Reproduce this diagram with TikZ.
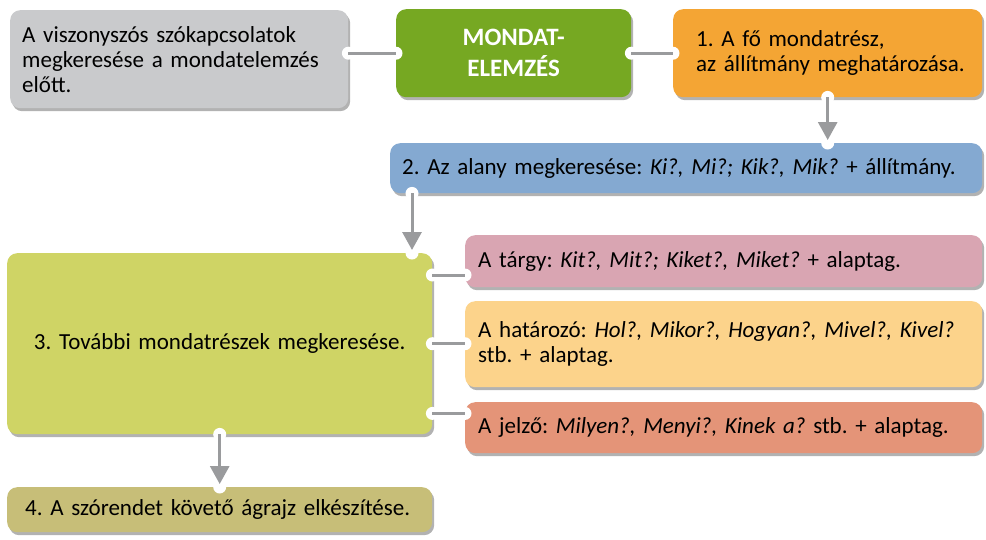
\documentclass[tikz,border=0pt]{standalone}
\usepackage{fontspec}
\setmainfont{Carlito}
\usetikzlibrary{shadows,arrows.meta,calc}
\definecolor{cgray}{HTML}{C9CACC}
\definecolor{cgreen}{HTML}{76A822}
\definecolor{corange}{HTML}{F4A534}
\definecolor{cblue}{HTML}{84A9D1}
\definecolor{cyg}{HTML}{CFD465}
\definecolor{cpink}{HTML}{D9A5B2}
\definecolor{ccream}{HTML}{FCD38B}
\definecolor{csalmon}{HTML}{E49478}
\definecolor{colive}{HTML}{C7BE78}
\definecolor{cline}{HTML}{9A9B9D}
\frenchspacing
\tikzset{
  box/.style={rounded corners=10pt, anchor=north west, inner ysep=0pt, align=left,
    font=\fontsize{23}{25}\selectfont, text=black,
    drop shadow={shadow xshift=2pt, shadow yshift=-3pt, opacity=0.3, fill=black}},
  notch/.style={fill=white, draw=none},
  conn/.style={draw=cline, line width=3pt},
  arr/.style={draw=cline, line width=3pt, -{Triangle[width=19pt,length=18pt]}, shorten >=3pt}
}
\begin{document}
\begin{tikzpicture}[x=1pt,y=1pt]
\useasboundingbox (0,0) rectangle (986,-539);
% boxes
\node[box, fill=cgray, inner xsep=12pt, text width=314pt, minimum height=98pt] (gray) at (10,-10)
  {\mbox{A viszonyszós szókapcsolatok}\\\mbox{megkeresése a mondatelemzés}\\előtt.};
\node[box, fill=cgreen, inner xsep=0pt, text width=235pt, minimum height=88pt, align=center,
  text=white, font=\fontsize{25}{31}\selectfont\bfseries] (green) at (396,-9)
  {MONDAT-\\ELEMZÉS};
\node[box, fill=corange, inner xsep=23pt, text width=263pt, minimum height=88pt] (orange) at (673,-9)
  {1. A fő mondatrész,\\\mbox{az állítmány meghatározása.}};
\node[box, fill=cblue, inner xsep=12pt, text width=568pt, minimum height=50pt] (blue) at (390,-143)
  {\mbox{2. Az alany megkeresése: \textit{Ki?, Mi?; Kik?, Mik?} + állítmány.}};
\node[box, fill=cyg, inner xsep=0pt, text width=425pt, minimum height=181pt, align=center] (yg) at (7,-253)
  {3. További mondatrészek megkeresése.};
\node[box, fill=cpink, inner xsep=13pt, text width=491pt, minimum height=52pt] (pink) at (465,-235)
  {\mbox{A tárgy: \textit{Kit?, Mit?; Kiket?, Miket?} + alaptag.}};
\node[box, fill=ccream, inner xsep=13pt, text width=491pt, minimum height=86pt] (cream) at (465,-301)
  {\mbox{A határozó: \textit{Hol?, Mikor?, Hogyan?, Mivel?, Kivel?}}\\stb. + alaptag.};
\node[box, fill=csalmon, inner xsep=13pt, text width=491pt, minimum height=51pt] (salmon) at (465,-402)
  {\mbox{A jelző: \textit{Milyen?, Menyi?, Kinek a?} stb. + alaptag.}};
\node[box, fill=colive, inner xsep=18pt, text width=389pt, minimum height=45pt] (olive) at (7,-487)
  {\mbox{4. A szórendet követő ágrajz elkészítése.}};
% attachment points
\coordinate (g1) at (gray.east |- green.west);
\coordinate (b1) at (orange.south |- blue.north);
\coordinate (b2) at ($(blue.south west)+(22,0)$);
\coordinate (y0) at (b2 |- yg.north);
\coordinate (y1) at ($(yg.north east)+(0,-22)$);
\coordinate (y2) at (yg.east);
\coordinate (y3) at ($(yg.south east)+(0,21)$);
\coordinate (p1) at (y1 -| pink.west);
\coordinate (p2) at (y2 -| cream.west);
\coordinate (p3) at (y3 -| salmon.west);
% notches
\foreach \c in {g1, green.west, green.east, orange.west, orange.south, b1, b2, y0, y1, y2, y3, p1, p2, p3, yg.south, olive.north}
  \fill[notch] (\c) circle (6.5pt);
% connectors
\draw[conn] (g1) -- (green.west);
\draw[conn] (green.east) -- (orange.west);
\draw[arr] (orange.south) -- (b1);
\draw[arr] (b2) -- (y0);
\draw[conn] (y1) -- (p1);
\draw[conn] (y2) -- (p2);
\draw[conn] (y3) -- (p3);
\draw[arr] (yg.south) -- (olive.north);
\end{tikzpicture}
\end{document}
